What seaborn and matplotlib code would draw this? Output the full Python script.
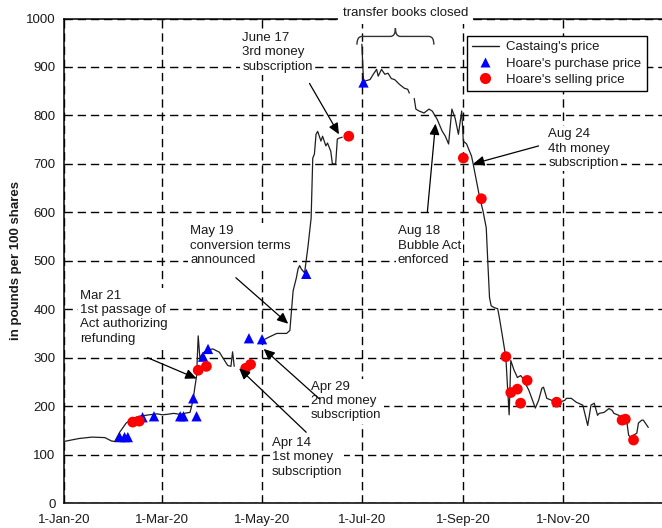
import matplotlib
matplotlib.use("Agg")
import matplotlib.pyplot as plt
import matplotlib.dates as mdates
from matplotlib.path import Path
from matplotlib.patches import PathPatch
from matplotlib.lines import Line2D
import numpy as np
import pandas as pd
import seaborn as sns

# ---------------- data ----------------
# Castaing's price, in segments (gaps in the record)
seg1_dates = ["1720-01-01", "1720-01-10", "1720-01-18", "1720-01-26", "1720-01-30", "1720-02-01",
              "1720-02-04", "1720-02-08", "1720-02-12", "1720-02-16", "1720-02-22", "1720-02-27",
              "1720-03-01", "1720-03-04", "1720-03-08", "1720-03-12", "1720-03-16", "1720-03-18",
              "1720-03-19", "1720-03-20", "1720-03-21", "1720-03-22", "1720-03-23", "1720-03-24",
              "1720-03-26", "1720-03-29", "1720-04-01", "1720-04-05", "1720-04-07", "1720-04-10",
              "1720-04-12", "1720-04-13", "1720-04-14"]
seg1_prices = [127, 133, 136, 135, 128, 127,
               146, 165, 175, 179, 182, 184,
               182, 183, 185, 183, 186, 187,
               200, 216, 240, 262, 345, 300,
               310, 316, 318, 311, 300, 284,
               282, 312, 282]

seg2_dates = ["1720-05-01", "1720-05-05", "1720-05-10", "1720-05-16", "1720-05-18", "1720-05-19",
              "1720-05-20", "1720-05-22", "1720-05-23", "1720-05-24", "1720-05-25", "1720-05-27",
              "1720-05-29", "1720-05-31", "1720-06-01", "1720-06-02", "1720-06-03", "1720-06-04",
              "1720-06-06", "1720-06-07", "1720-06-09", "1720-06-10", "1720-06-12", "1720-06-13",
              "1720-06-15", "1720-06-16", "1720-06-17", "1720-06-19"]
seg2_prices = [335, 342, 350, 350, 356, 397,
               438, 465, 483, 490, 483, 475,
               527, 588, 712, 720, 761, 767,
               747, 757, 737, 743, 726, 700,
               700, 751, 753, 755]

seg3_dates = ["1720-07-01", "1720-07-02", "1720-07-06", "1720-07-08", "1720-07-10", "1720-07-11",
              "1720-07-13", "1720-07-15", "1720-07-17", "1720-07-19", "1720-07-21", "1720-07-24",
              "1720-07-27", "1720-07-29", "1720-07-30"]
seg3_prices = [947, 870, 874, 885, 895, 881,
               895, 885, 887, 876, 874, 864,
               856, 854, 846]

seg4_dates = ["1720-08-02", "1720-08-03", "1720-08-05", "1720-08-08", "1720-08-11", "1720-08-13",
              "1720-08-16", "1720-08-19", "1720-08-21", "1720-08-23", "1720-08-25", "1720-08-27",
              "1720-08-29", "1720-08-31", "1720-09-01", "1720-09-03", "1720-09-06", "1720-09-07",
              "1720-09-09", "1720-09-11", "1720-09-13", "1720-09-15", "1720-09-16", "1720-09-17",
              "1720-09-18", "1720-09-20", "1720-09-22", "1720-09-23", "1720-09-25", "1720-09-27",
              "1720-09-28", "1720-09-29", "1720-09-30", "1720-10-02", "1720-10-03", "1720-10-04",
              "1720-10-06", "1720-10-07", "1720-10-11", "1720-10-15", "1720-10-17", "1720-10-19",
              "1720-10-20", "1720-10-22", "1720-10-25", "1720-10-30", "1720-11-02", "1720-11-03",
              "1720-11-06", "1720-11-09", "1720-11-13", "1720-11-16", "1720-11-18", "1720-11-20",
              "1720-11-22", "1720-11-23", "1720-11-26", "1720-11-29", "1720-12-01", "1720-12-02",
              "1720-12-05", "1720-12-10", "1720-12-11", "1720-12-12", "1720-12-16", "1720-12-17",
              "1720-12-19", "1720-12-20", "1720-12-23"]
seg4_prices = [835, 813, 809, 805, 813, 809,
               792, 768, 757, 741, 813, 794,
               761, 809, 747, 741, 716, 700,
               665, 630, 603, 568, 494, 424,
               407, 403, 401, 383, 342, 300,
               239, 182, 294, 274, 267, 259,
               263, 259, 233, 196, 212, 237,
               239, 216, 212, 208, 212, 216,
               216, 208, 202, 160, 202, 206,
               181, 185, 187, 195, 191, 185,
               181, 165, 140, 136, 144, 165,
               171, 171, 156]

# Hoare's purchases
purchase_dates = ["1720-02-04", "1720-02-07", "1720-02-09", "1720-02-18", "1720-02-25", "1720-03-12",
                  "1720-03-14", "1720-03-20", "1720-03-22", "1720-03-26", "1720-03-29", "1720-04-23",
                  "1720-05-01", "1720-05-28", "1720-07-02"]
purchase_prices = [136, 136, 136, 177, 179, 179,
                   179, 216, 179, 302, 318, 340,
                   338, 473, 868]

# Hoare's sales
sale_dates = ["1720-02-12", "1720-02-16", "1720-03-23", "1720-03-28", "1720-04-21", "1720-04-24",
              "1720-06-23", "1720-09-01", "1720-09-12", "1720-09-27", "1720-09-30", "1720-10-04",
              "1720-10-06", "1720-10-10", "1720-10-28", "1720-12-07", "1720-12-09", "1720-12-14"]
sale_prices = [167, 169, 274, 282, 278, 286,
               757, 712, 628, 302, 228, 235,
               206, 253, 208, 171, 173, 130]

x_ticks = ["1720-01-01", "1720-03-01", "1720-05-01", "1720-07-01", "1720-09-01", "1720-11-01"]
x_tick_labels = ["1-Jan-20", "1-Mar-20", "1-May-20", "1-Jul-20", "1-Sep-20", "1-Nov-20"]
y_ticks = list(range(0, 1001, 100))

legend_labels = ["Castaing's price", "Hoare's purchase price", "Hoare's selling price"]

# annotations: (text, text anchor date, text top value, arrow start date, value, arrow tip date, value)
annotations = [
    ("June 17\n3rd money\nsubscription", "1720-04-19", 972, "1720-05-30", 866, "1720-06-17", 761),
    ("May 19\nconversion terms\nannounced", "1720-03-18", 573, "1720-04-15", 465, "1720-05-17", 370),
    ("Mar 21\n1st passage of\nAct authorizing\nrefunding", "1720-01-11", 440, "1720-02-21", 300, "1720-03-22", 257),
    ("Apr 14\n1st money\nsubscription", "1720-05-07", 136, "1720-05-28", 146, "1720-04-17", 278),
    ("Apr 29\n2nd money\nsubscription", "1720-05-31", 252, "1720-06-05", 215, "1720-05-02", 318),
    ("Aug 18\nBubble Act\nenforced", "1720-07-23", 573, "1720-08-10", 600, "1720-08-15", 783),
    ("Aug 24\n4th money\nsubscription", "1720-10-23", 773, "1720-10-17", 737, "1720-09-07", 700),
]
books_closed = ("1720-06-28", "1720-08-14")

# ---------------- build frames ----------------
segs = [(seg1_dates, seg1_prices), (seg2_dates, seg2_prices),
        (seg3_dates, seg3_prices), (seg4_dates, seg4_prices)]
frames = []
for i, (d, p) in enumerate(segs):
    frames.append(pd.DataFrame({"date": pd.to_datetime(d), "price": p, "seg": i}))
castaing = pd.concat(frames, ignore_index=True)
purchases = pd.DataFrame({"date": pd.to_datetime(purchase_dates), "price": purchase_prices})
sales = pd.DataFrame({"date": pd.to_datetime(sale_dates), "price": sale_prices})

# ---------------- style ----------------
sns.set_style("white")
plt.rcParams["font.family"] = ["Liberation Sans", "DejaVu Sans"]
FS = 9.5
TXT = "#1a1a1a"

fig = plt.figure(figsize=(6.62, 5.28), dpi=100)
ax = fig.add_axes([64 / 662, 25 / 528, 599 / 662, 484.5 / 528])

line_color = "#1e1e1e"
sns.lineplot(data=castaing, x="date", y="price", units="seg", estimator=None, sort=False,
             color=line_color, linewidth=0.9, ax=ax, legend=False, zorder=3)
sns.scatterplot(data=purchases, x="date", y="price", marker="^", color="#0000ff", s=55,
                edgecolor="none", linewidth=0, ax=ax, legend=False, zorder=4)
sns.scatterplot(data=sales, x="date", y="price", marker="o", color="#ff0000", s=60,
                edgecolor="none", linewidth=0, ax=ax, legend=False, zorder=4)

ax.set_xlim(mdates.date2num(pd.Timestamp("1720-01-01")), mdates.date2num(pd.Timestamp("1721-01-01")))
ax.set_ylim(0, 1000)
ax.set_xticks([mdates.date2num(pd.Timestamp(t)) for t in x_ticks])
ax.set_xticklabels(x_tick_labels)
ax.set_yticks(y_ticks)
ax.set_yticklabels([str(v) for v in y_ticks])
ax.set_xlabel("")
ax.set_ylabel("in pounds per 100 shares", fontsize=FS, fontweight="bold", color=TXT)
ax.yaxis.set_label_coords(-0.070, 0.5)

ax.grid(True, color="black", linestyle=(0, (6, 3.5)), linewidth=1.0)
ax.set_axisbelow(True)
ax.tick_params(axis="both", direction="in", length=4, width=1, color="black",
               labelsize=FS, labelcolor=TXT)
ax.tick_params(axis="x", pad=8)
ax.tick_params(axis="y", pad=6)
for side in ["left", "bottom", "top"]:
    ax.spines[side].set_visible(True)
    ax.spines[side].set_color("black")
    ax.spines[side].set_linewidth(1.1)
ax.spines["right"].set_visible(False)

# annotations (white boxes interrupt the grid, as in the original)
for text, tx, ty, ax0, ay0, ax1, ay1 in annotations:
    ax.text(mdates.date2num(pd.Timestamp(tx)), ty, text, ha="left", va="top",
            fontsize=FS, color=TXT, linespacing=1.25, zorder=2.6,
            bbox=dict(facecolor="white", edgecolor="none", pad=1.5))
    ax.annotate("", xy=(mdates.date2num(pd.Timestamp(ax1)), ay1),
                xytext=(mdates.date2num(pd.Timestamp(ax0)), ay0),
                arrowprops=dict(arrowstyle="-|>,head_length=0.55,head_width=0.25",
                                color="black", lw=0.9, shrinkA=0, shrinkB=0,
                                mutation_scale=12), zorder=6)

# transfer books closed brace and label
b0 = mdates.date2num(pd.Timestamp(books_closed[0]))
b1 = mdates.date2num(pd.Timestamp(books_closed[1]))
bm = (b0 + b1) / 2
yb, yend, ytip, dx = 963, 946, 980, 3
verts = [(b0, yend), (b0, yb), (b0 + dx, yb),
         (bm - dx, yb), (bm, yb), (bm, ytip),
         (bm, yb), (bm + dx, yb),
         (b1 - dx, yb), (b1, yb), (b1, yend)]
codes = [Path.MOVETO, Path.CURVE3, Path.CURVE3,
         Path.LINETO, Path.CURVE3, Path.CURVE3,
         Path.CURVE3, Path.CURVE3,
         Path.LINETO, Path.CURVE3, Path.CURVE3]
ax.add_patch(PathPatch(Path(verts, codes), fill=False, edgecolor="#333333", lw=1.0,
                       clip_on=False, zorder=5))
ax.text(bm + 6, 1012, "transfer books closed", ha="center", va="center", fontsize=FS,
        color=TXT, zorder=7, clip_on=False,
        bbox=dict(facecolor="white", edgecolor="none", pad=3.5))

# legend
handles = [Line2D([0], [0], color=line_color, lw=1.0),
           Line2D([0], [0], marker="^", color="none", markerfacecolor="#0000ff",
                  markeredgecolor="none", markersize=7.5),
           Line2D([0], [0], marker="o", color="none", markerfacecolor="#ff0000",
                  markeredgecolor="none", markersize=8)]
leg = ax.legend(handles, legend_labels, loc="upper right", bbox_to_anchor=(0.973, 0.964),
                fontsize=FS, frameon=True, fancybox=False, framealpha=1, edgecolor="black",
                borderpad=0.4, labelspacing=0.3, handlelength=2.0, handletextpad=0.6,
                borderaxespad=0)
leg.get_frame().set_linewidth(1.0)
leg.set_zorder(8)
for t in leg.get_texts():
    t.set_color(TXT)

fig.savefig("out.png", dpi=100)
